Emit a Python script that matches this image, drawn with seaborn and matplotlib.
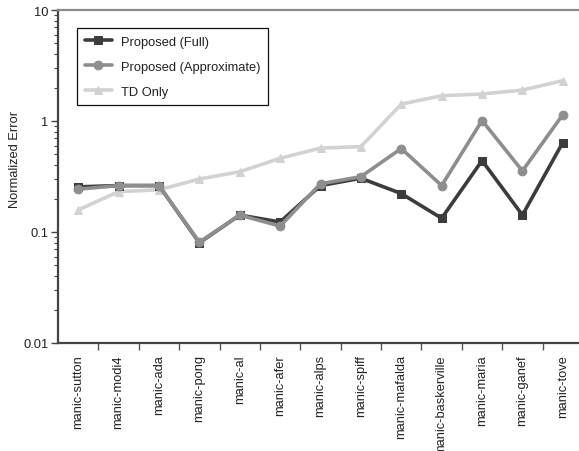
import matplotlib
matplotlib.use("Agg")
import matplotlib.pyplot as plt
import matplotlib.transforms as mtransforms
import seaborn as sns
import numpy as np
import pandas as pd

fonts = ["Liberation Sans", "DejaVu Sans"]

categories = ["manic-sutton", "manic-modi4", "manic-ada", "manic-pong", "manic-al",
              "manic-afer", "manic-alps", "manic-spiff", "manic-mafalda",
              "manic-baskerville", "manic-maria", "manic-ganef", "manic-tove"]
full = [0.255, 0.262, 0.262, 0.080, 0.142, 0.123, 0.262, 0.305, 0.222, 0.133, 0.44, 0.142, 0.64]
approx = [0.243, 0.262, 0.262, 0.081, 0.142, 0.113, 0.272, 0.315, 0.565, 0.262, 1.01, 0.355, 1.14]
td_only = [0.158, 0.231, 0.240, 0.300, 0.349, 0.461, 0.570, 0.587, 1.42, 1.69, 1.75, 1.90, 2.31]
y_ticks = [0.01, 0.1, 1, 10]
y_tick_labels = ["0.01", "0.1", "1", "10"]

sns.set_theme(style="white")
plt.rcParams["font.family"] = fonts

fig = plt.figure(figsize=(5.79, 4.52), dpi=100)
ax = fig.add_axes([58 / 579, 108 / 452, 525 / 579, 333 / 452])

pos = np.arange(len(categories))
series = [
    ("TD Only", td_only, "#d2d2d2", "^", 6.0),
    ("Proposed (Full)", full, "#3c3c3c", "s", 6.3),
    ("Proposed (Approximate)", approx, "#8e8e8e", "o", 6.3),
]
for name, vals, col, mk, ms in series:
    df = pd.DataFrame({"x": pos, "y": vals})
    sns.lineplot(data=df, x="x", y="y", ax=ax, color=col, marker=mk,
                 markersize=ms, markeredgecolor=col, linewidth=2.6,
                 label=name, legend=False)

ax.set_yscale("log")
ax.set_ylim(0.01, 10)
ax.set_xlim(-0.5, 12.5)
ax.set_yticks(y_ticks)
ax.set_yticklabels(y_tick_labels)
ax.set_xticks(pos)
ax.set_xticklabels(categories, rotation=90, va="top", ha="center")
ax.set_xticks(pos[:-1] + 0.5, minor=True)

# nudge the rotated category labels slightly to the right
shift = mtransforms.ScaledTranslation(0.045, 0, fig.dpi_scale_trans)
for lbl in ax.get_xticklabels():
    lbl.set_transform(lbl.get_transform() + shift)

ax.tick_params(axis="x", which="major", length=0, pad=8, labelsize=9.3, colors="#222222")
ax.tick_params(axis="x", which="minor", length=5, width=1, color="#555555", direction="out", bottom=True)
ax.tick_params(axis="y", which="major", length=5, width=1, color="#444444", direction="out",
               left=True, labelsize=9.3, labelcolor="#222222", pad=2)
ax.tick_params(axis="y", which="minor", length=3, width=0.8, color="#444444", direction="out", left=True)

ax.set_xlabel("")
ax.set_ylabel("Normalized Error", fontsize=9.3, color="#222222")
ax.yaxis.set_label_coords(-0.071, 0.553)

for side in ["left", "bottom"]:
    ax.spines[side].set_color("#444444")
    ax.spines[side].set_linewidth(1.6)
ax.spines["top"].set_color("#8a8a8a")
ax.spines["top"].set_linewidth(1.6)
ax.spines["right"].set_visible(False)
ax.grid(False)

handles, labels = ax.get_legend_handles_labels()
order = ["Proposed (Full)", "Proposed (Approximate)", "TD Only"]
hmap = dict(zip(labels, handles))
leg = ax.legend([hmap[k] for k in order], order, loc="upper left",
                bbox_to_anchor=(0.036, 0.946), borderaxespad=0, fontsize=9.3,
                frameon=True, fancybox=False, edgecolor="#111111", framealpha=1,
                handlelength=2.1, handletextpad=0.7, labelspacing=1.0, borderpad=0.6)
leg.get_frame().set_linewidth(0.9)
for t in leg.get_texts():
    t.set_color("#222222")

fig.savefig("out.png", dpi=100)
